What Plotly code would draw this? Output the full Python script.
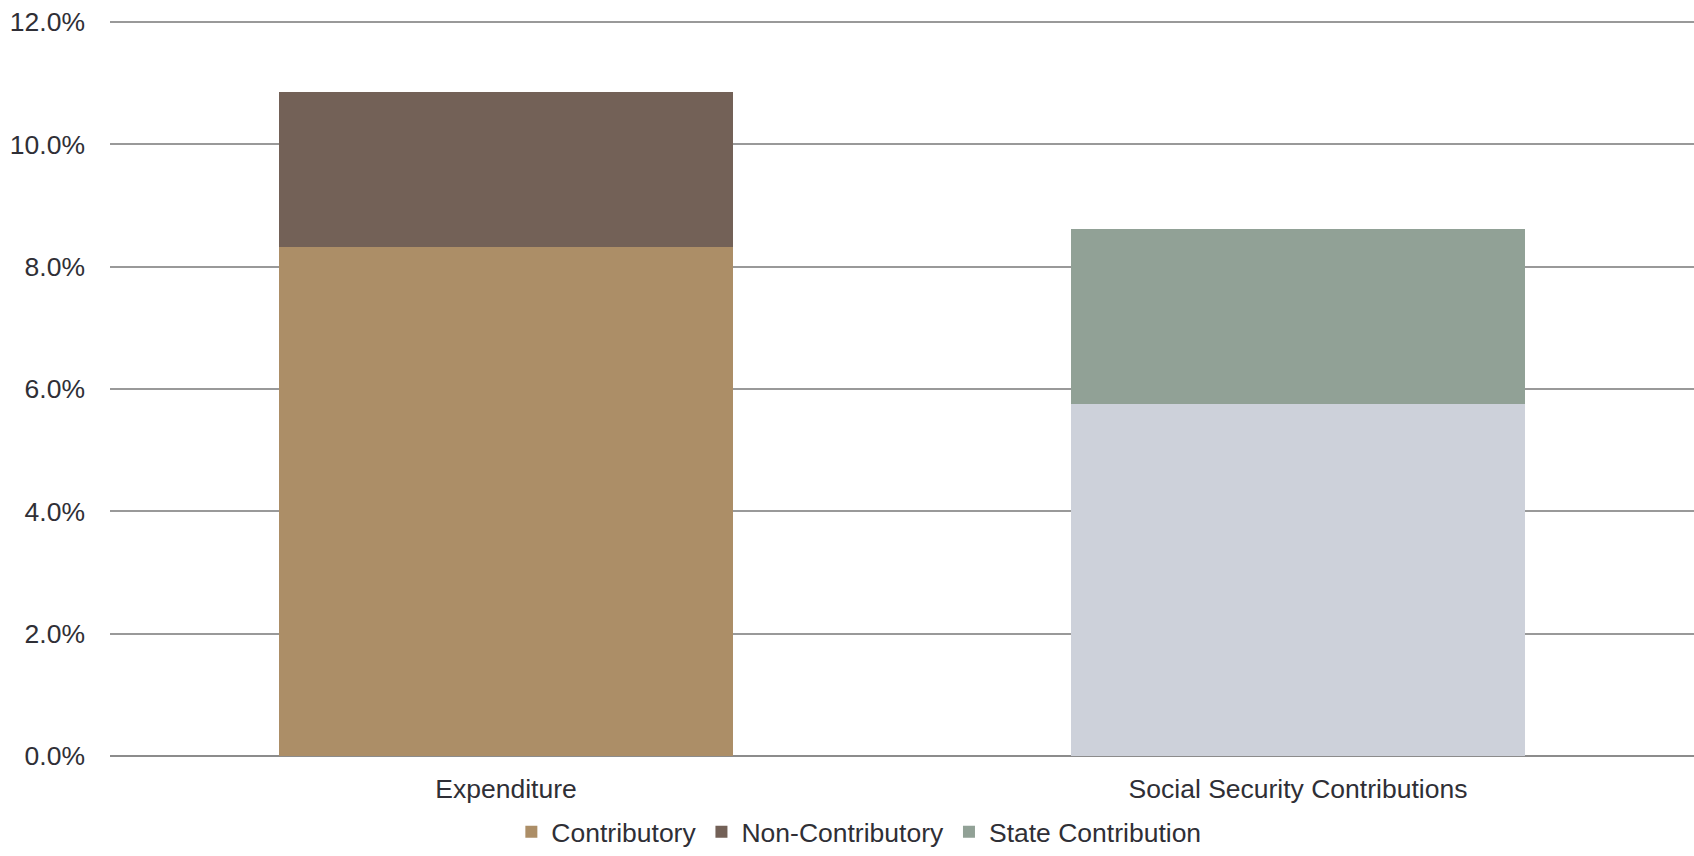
import plotly.graph_objects as go

categories = ["Expenditure", "Social Security Contributions"]
contributory = [8.33, None]
non_contributory = [2.53, None]
worker_employer = [None, 5.75]
state_contribution = [None, 2.86]
y_ticks = [0, 2, 4, 6, 8, 10, 12]
y_tick_text = [f"{v:.1f}%" for v in y_ticks]

fig = go.Figure()
fig.add_bar(x=categories, y=contributory, name="Contributory", marker_color="#AC8E67")
fig.add_bar(x=categories, y=non_contributory, name="Non-Contributory", marker_color="#736157")
fig.add_bar(x=categories, y=worker_employer, name="Contributions", marker_color="#CDD1DA", showlegend=False)
fig.add_bar(x=categories, y=state_contribution, name="State Contribution", marker_color="#91A196")

fig.update_traces(marker_line_width=0)

font = dict(family="Liberation Sans, Arial, sans-serif", size=26.5, color="#2f2f36")
fig.update_layout(
    barmode="stack",
    bargap=0.428,
    width=1694, height=856,
    margin=dict(l=110, r=0, t=16, b=100),
    paper_bgcolor="white", plot_bgcolor="white",
    font=font,
    legend=dict(orientation="h", xref="container", x=0.507, xanchor="center",
                yref="container", y=0.0, yanchor="bottom", font=font,
                traceorder="normal", itemwidth=30, tracegroupgap=0,
                bgcolor="rgba(0,0,0,0)"),
    xaxis=dict(showgrid=False, showline=False, zeroline=False, automargin=False,
               ticks="outside", ticklen=9, tickcolor="rgba(0,0,0,0)", tickfont=font),
    yaxis=dict(range=[0, 12.1], tickvals=y_ticks, ticktext=y_tick_text,
               showgrid=True, gridcolor="#999999", gridwidth=1.5, automargin=False,
               zeroline=True, zerolinecolor="#8c8c8c", zerolinewidth=2,
               showline=False, ticklabelstandoff=24, tickfont=font),
)

fig.write_html(
    "out.html",
    config={"displayModeBar": False},
    post_script="document.body.style.margin='0';",
)
